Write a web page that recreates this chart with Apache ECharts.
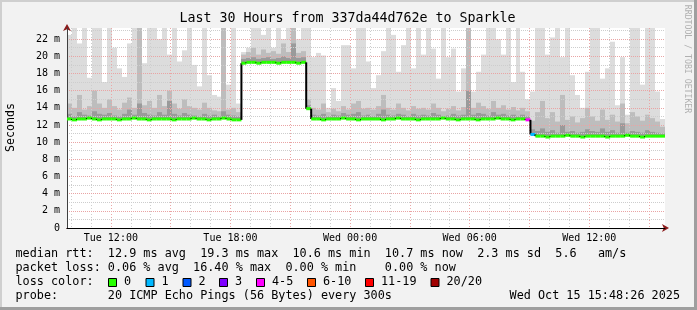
<!DOCTYPE html>
<html><head><meta charset="utf-8">
<script src="https://cdn.jsdelivr.net/npm/echarts@6/dist/echarts.min.js"></script>
<style>html,body{margin:0;padding:0;background:#f2f2f2}#c{width:697px;height:310px}</style>
</head><body><div id="c"></div>
<script>
// ---------- data ----------
const startHour = 9.8;   // Tue 09:48 (hours since Tue 00:00)
const stepHour = 0.25;   // one sample per 15 minutes
const endHour = 39.8;    // Wed 15:48

const medianRtt = [
  12.7,12.6,12.7,12.7,12.8,12.7,12.6,12.7,12.7,12.7,
  12.6,12.7,12.7,12.8,12.7,12.7,12.6,12.7,12.7,12.7,
  12.7,12.6,12.7,12.7,12.7,12.8,12.7,12.7,12.6,12.7,
  12.7,12.8,12.7,12.6,12.6,
  19.2,19.3,19.3,19.2,19.3,19.3,19.3,19.2,19.3,19.3,19.3,19.2,19.3,
  13.9,
  12.7,12.7,12.6,12.7,12.7,12.7,12.8,12.7,12.7,12.6,
  12.7,12.7,12.7,12.7,12.6,12.7,12.7,12.8,12.7,12.7,
  12.7,12.6,12.7,12.7,12.7,12.7,12.8,12.7,12.7,12.6,
  12.7,12.7,12.7,12.6,12.7,12.7,12.7,12.8,12.7,12.7,
  12.6,12.7,12.7,
  12.6,
  10.9,
  10.7,10.7,10.6,10.7,10.7,10.7,10.8,10.7,10.7,10.6,
  10.7,10.7,10.7,10.7,10.6,10.7,10.7,10.7,10.8,10.7,
  10.7,10.6,10.7,10.7,10.7,10.7
];
const smokeHi = [
  22.5,23.3,21.5,23.3,17.5,23.3,23.3,17.0,23.3,21.0,
  18.6,17.6,21.5,23.3,23.3,19.2,23.3,23.3,22.0,23.3,
  20.2,23.3,19.4,20.7,23.3,19.0,16.5,23.3,17.8,15.5,
  15.3,23.3,16.7,23.3,14.5,
  20.5,21.0,23.3,23.3,22.5,23.3,21.0,23.3,22.0,23.3,23.3,22.0,23.3,
  23.3,
  19.9,20.4,20.1,14.0,16.3,14.8,21.3,21.3,18.6,23.3,
  23.3,19.4,16.3,17.8,20.6,23.3,22.5,18.2,21.3,23.3,
  18.6,23.3,20.2,23.3,20.9,17.4,23.3,19.9,20.9,15.9,
  18.6,19.0,15.9,18.2,20.2,23.3,23.3,22.0,20.2,23.3,
  17.0,23.3,18.2,
  15.0,
  15.9,
  23.3,23.3,20.2,22.2,23.3,19.9,23.3,17.8,15.5,14.0,
  18.2,23.3,23.3,17.4,18.6,21.7,14.3,19.9,13.2,23.3,
  23.3,16.7,23.3,23.3,15.9,12.7
];
const smokeMid = [
  14.5,14.0,15.5,13.8,14.2,16.0,14.5,14.0,15.0,14.2,
  13.8,14.6,15.2,14.0,23.3,14.3,14.8,14.0,15.5,14.2,
  16.0,14.5,13.9,15.0,14.2,14.0,13.8,14.6,14.0,13.7,
  13.6,23.3,13.8,14.0,13.5,
  20.2,20.5,21.0,20.2,20.8,20.4,20.6,20.3,21.5,20.5,23.3,20.4,20.6,
  15.0,
  14.0,13.8,14.5,13.5,13.9,13.6,14.2,13.8,14.5,14.8,
  13.9,14.0,13.8,14.2,15.5,14.0,13.8,14.5,14.0,13.7,
  14.2,13.9,14.0,13.8,14.5,14.0,13.6,13.9,14.2,13.7,
  14.1,23.3,14.0,14.6,14.2,13.9,14.8,14.0,14.3,13.8,
  14.1,13.7,14.0,
  13.6,
  12.5,
  13.5,14.8,12.8,13.5,12.4,15.5,12.6,13.0,12.3,12.8,
  14.0,13.0,12.5,13.8,12.6,13.2,12.4,14.5,12.2,13.5,
  13.0,12.5,13.2,12.8,12.4,11.8
];
const smokeDark = [
  13.3,13.0,13.5,13.2,13.1,13.6,13.3,13.2,13.4,13.1,
  13.0,13.3,13.8,13.2,14.5,13.4,13.2,13.1,13.5,13.2,
  14.8,13.3,13.1,13.4,13.2,13.1,13.0,13.3,13.1,13.2,
  13.0,13.6,13.2,13.1,13.0,
  19.7,19.8,19.9,19.7,19.8,19.9,19.7,19.8,20.0,19.8,21.5,19.8,19.9,
  14.3,
  13.2,13.1,13.3,13.0,13.2,13.1,13.4,13.2,13.3,13.5,
  13.1,13.2,13.0,13.3,13.8,13.2,13.1,13.3,13.2,13.0,
  13.3,13.1,13.2,13.1,13.4,13.2,13.0,13.1,13.3,13.1,
  13.2,16.0,13.2,13.4,13.3,13.1,13.5,13.2,13.3,13.1,
  13.2,13.0,13.2,
  13.0,
  11.5,
  11.3,11.6,11.2,11.4,11.1,12.0,11.2,11.3,11.1,11.2,
  11.5,11.3,11.2,11.6,11.2,11.4,11.1,12.2,11.1,11.3,
  11.2,11.1,11.4,11.2,11.1,11.0
];
const lossCount = [
  0,0,0,0,0,0,0,0,0,0, 0,0,0,0,0,0,0,0,0,0,
  0,0,0,0,0,0,0,0,0,0, 0,0,0,0,0,0,0,0,0,0,
  0,0,0,0,0,0,0,0,0,0, 0,0,0,0,0,0,0,0,0,0,
  0,0,0,0,0,0,0,0,0,0, 0,0,0,0,0,0,0,0,0,0,
  0,0,0,0,0,0,0,0,0,0, 0,0,4,1,0,0,0,0,0,0,
  0,0,0,0,0,0,0,0,0,0, 0,0,0,0,0,0,0,0,0,0
];

const hourTicks = [10,11,12,13,14,15,16,17,18,19,20,21,22,23,24,25,26,27,28,29,30,31,32,33,34,35,36,37,38,39];
const majorHourTicks = [12,15,18,21,24,27,30,33,36,39];
const labelHourTicks = [12,18,24,30,36];
const labelNames = ['Tue 12:00','Tue 18:00','Wed 00:00','Wed 06:00','Wed 12:00'];
const yMax = 23.3;

const lossLabels = ['0','1','2','3','4-5','6-10','11-19','20/20'];
const lossColors = ['#26ff00','#00b8ff','#0059ff','#7e00ff','#ff00ff','#ff5500','#ff0000','#a00000'];
const lossUpper  = [0,1,2,3,5,10,19,20];

const titleText = 'Last 30 Hours from 337da44d762e to Sparkle';
const legendLines = [
  'median rtt:  12.9 ms avg  19.3 ms max  10.6 ms min  10.7 ms now  2.3 ms sd  5.6   am/s',
  'packet loss: 0.06 % avg  16.40 % max  0.00 % min    0.00 % now',
  'loss color:',
  'probe:       20 ICMP Echo Pings (56 Bytes) every 300s'
];
const dateText = 'Wed Oct 15 15:48:26 2025';

// ---------- chart ----------
const MONO = '"DejaVu Sans Mono", monospace';
const chart = echarts.init(document.getElementById('c'), null, {renderer:'canvas', width:697, height:310});

function lossColor(n){ for (let k=0;k<lossUpper.length;k++){ if(n<=lossUpper[k]) return lossColors[k]; } return lossColors[lossColors.length-1]; }

function layerData(top){ return top.map((v,i)=>[startHour + i*stepHour, medianRtt[i], v]); }
function smokeRender(color){
  return function(params, api){
    const t = api.value(0), lo = api.value(1), hi = api.value(2);
    const a = api.coord([t, hi]);
    const b = api.coord([t + stepHour, lo]);
    const x0 = Math.round(a[0]), x1 = Math.round(b[0]);
    return {type:'rect', shape:{x:x0, y:a[1], width:x1-x0, height:b[1]-a[1]}, style:{fill:color}};
  };
}
function smokeSeries(top, color){
  return {type:'custom', xAxisIndex:0, yAxisIndex:0, z:2, clip:true, silent:true,
    encode:{x:0, y:[1,2]}, data:layerData(top), renderItem:smokeRender(color)};
}

const medianData = medianRtt.map((m,i)=>[startHour + i*stepHour, m, i>0 ? medianRtt[i-1] : m, lossCount[i]]);

const LEG_FONT = '11.8px ' + MONO;
const graphics = [
  {type:'rect', shape:{x:0,y:0,width:697,height:2}, style:{fill:'#cfcfcf'}, silent:true},
  {type:'rect', shape:{x:0,y:0,width:2,height:310}, style:{fill:'#cfcfcf'}, silent:true},
  {type:'rect', shape:{x:0,y:307,width:697,height:3}, style:{fill:'#9f9f9f'}, silent:true},
  {type:'rect', shape:{x:694,y:0,width:3,height:310}, style:{fill:'#9f9f9f'}, silent:true},
  {type:'text', x:347.5, y:19, style:{text:titleText, font:'13.3px '+MONO, fill:'#000', align:'center', verticalAlign:'middle'}},
  {type:'text', x:10.5, y:127.5, rotation:Math.PI/2, style:{text:'Seconds', font:'11.6px '+MONO, fill:'#000', align:'center', verticalAlign:'middle'}},
  {type:'text', x:687.5, y:59, rotation:-Math.PI/2, style:{text:'RRDTOOL / TOBI OETIKER', font:'8.2px '+MONO, fill:'#b0b0b0', align:'center', verticalAlign:'middle'}},
  {type:'text', x:680, y:296, style:{text:dateText, font:LEG_FONT, fill:'#000', align:'right', verticalAlign:'middle'}}
];
const lineY = [254, 268, 282, 296];
legendLines.forEach((s,k)=>{
  graphics.push({type:'text', x:15.5, y:lineY[k], style:{text:s, font:LEG_FONT, fill:'#000', align:'left', verticalAlign:'middle'}});
});
const swatchX = [108, 145.5, 182.5, 219, 256, 307, 365, 430.5];
lossLabels.forEach((lab,k)=>{
  graphics.push({type:'rect', shape:{x:swatchX[k]+0.5, y:278.5, width:8, height:8}, style:{fill:lossColors[k], stroke:'#000', lineWidth:1}});
  graphics.push({type:'text', x:swatchX[k]+16, y:282, style:{text:lab, font:LEG_FONT, fill:'#000', align:'left', verticalAlign:'middle'}});
});

const vDash = [1,2];
const hDash = [1,1];
const option = {
  animation:false,
  backgroundColor:'#f2f2f2',
  grid:{left:67, right:32, top:28, bottom:82, show:true, backgroundColor:'#ffffff', borderWidth:0},
  xAxis:[
    {type:'value', min:startHour, max:endHour, position:'bottom', z:5,
     axisLine:{show:true, lineStyle:{color:'#8b1a1a', width:1}, symbol:['none','arrow'], symbolSize:[6,7], symbolOffset:[0,4]},
     axisTick:{show:false, customValues:hourTicks},
     axisLabel:{show:false},
     splitLine:{show:true, lineStyle:{color:'#cdcdcd', type:vDash, width:1}}},
    {type:'value', min:startHour, max:endHour, position:'bottom', z:6,
     axisLine:{show:true, lineStyle:{color:'#000', width:1}},
     axisTick:{show:false, customValues:majorHourTicks},
     axisLabel:{show:true, customValues:labelHourTicks, margin:5, color:'#000', fontFamily:MONO, fontSize:10,
       formatter:(v)=>{ const k = labelHourTicks.indexOf(Math.round(v)); return k>=0 ? labelNames[k] : ''; }},
     splitLine:{show:true, lineStyle:{color:'#eaa6a6', type:vDash, width:1}}}
  ],
  yAxis:[
    {type:'value', min:0, max:yMax, interval:1, position:'left', z:5,
     axisLine:{show:true, lineStyle:{color:'#8b1a1a', width:1}, symbol:['none','arrow'], symbolSize:[6,7], symbolOffset:[0,4]},
     axisTick:{show:false}, axisLabel:{show:false},
     splitLine:{show:true, showMaxLine:false, lineStyle:{color:'#cdcdcd', type:hDash, width:1}}},
    {type:'value', min:0, max:yMax, interval:2, position:'left', z:6,
     axisLine:{show:true, lineStyle:{color:'#404040', width:1}},
     axisTick:{show:false},
     axisLabel:{show:true, showMaxLabel:false, margin:7, color:'#000', fontFamily:MONO, fontSize:10,
       formatter:(v)=> v===0 ? '0' : (Number.isInteger(v) && v%2===0 ? v+' m' : '')},
     splitLine:{show:true, showMaxLine:false, lineStyle:{color:'#e9a4a4', type:hDash, width:1}}}
  ],
  series:[
    smokeSeries(smokeHi, '#dcdcdc'),
    smokeSeries(smokeMid, '#bdbdbd'),
    smokeSeries(smokeDark, '#9a9a9a'),
    {type:'custom', xAxisIndex:0, yAxisIndex:0, z:10, clip:true, silent:true,
     encode:{x:0, y:1}, data:medianData,
     renderItem:function(params, api){
       const t = api.value(0), m = api.value(1), prev = api.value(2), loss = api.value(3);
       const a = api.coord([t, m]), b = api.coord([t + stepHour, m]);
       const children = [];
       if (prev !== m) {
         const p = api.coord([t, prev]);
         children.push({type:'line', shape:{x1:a[0], y1:p[1], x2:a[0], y2:a[1]}, style:{stroke:'#000', lineWidth:2}});
       }
       children.push({type:'line', shape:{x1:a[0], y1:a[1], x2:b[0], y2:b[1]}, style:{stroke:lossColor(loss), lineWidth:3}});
       return {type:'group', children:children};
     }}
  ],
  graphic: graphics
};
chart.setOption(option);
</script>
</body></html>
